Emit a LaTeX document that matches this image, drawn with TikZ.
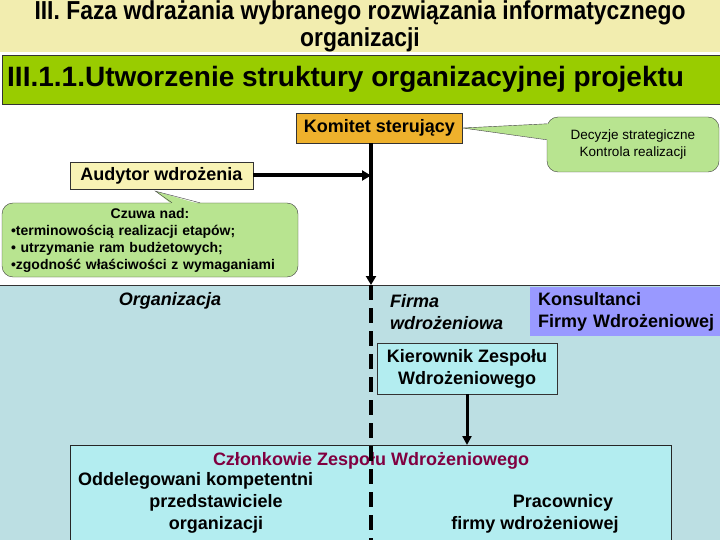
\documentclass[tikz,border=0pt]{standalone}
\usepackage{fontspec}
\setmainfont{Liberation Sans}
\newfontfamily\narrowfont[FakeStretch=0.88]{Liberation Sans}
\usetikzlibrary{arrows.meta,positioning,calc}
\definecolor{titlebg}{HTML}{F2EDAF}
\definecolor{bandgreen}{HTML}{99CC00}
\definecolor{komfill}{HTML}{EEB12C}
\definecolor{audfill}{HTML}{F8F3B5}
\definecolor{callfill}{HTML}{B8E490}
\definecolor{orgbg}{HTML}{BCDFE3}
\definecolor{konfill}{HTML}{9999FF}
\definecolor{teamfill}{HTML}{B3EDF0}
\definecolor{teamred}{HTML}{800040}

\begin{document}
\begin{tikzpicture}[x=1pt, y=-1pt,
  lbl/.style={inner sep=0pt, font=\bfseries\fontsize{18}{22}\selectfont},
  box/.style={lbl, draw=black!80, align=center},
  callout/.style={draw=black!75, fill=callfill, rounded corners=11pt, inner sep=0pt},
  vline/.style={line width=4pt, -{Triangle[length=9pt,width=10pt]}},
  dline/.style={line width=4pt, dash pattern=on 15pt off 8pt}
]
\useasboundingbox (0,0) rectangle (720,540);
\fill[white] (0,0) rectangle (720,540);
% headers
\fill[titlebg] (0,0) rectangle (720,52);
\node[inner sep=0pt, align=center, font=\narrowfont\bfseries\fontsize{26}{27}\selectfont]
  (title) at (360,26) {III. Faza wdrażania wybranego rozwiązania informatycznego\\organizacji};
\draw[draw=black!80, fill=bandgreen] (2,55) rectangle (722,104);
\node[inner sep=0pt, anchor=base west, font=\bfseries\fontsize{28}{30}\selectfont]
  (subtitle) at (7,87) {III.1.1.Utworzenie struktury organizacyjnej projektu};
% lower area
\draw[draw=black!80, fill=orgbg] (-1,285) rectangle (722,542);

\node[box, fill=komfill, minimum width=166pt, minimum height=30pt] (kom) at (379.5,128) {Komitet sterujący};
\node[callout, minimum width=172pt, minimum height=55pt, align=center,
  font=\fontsize{13.5}{17}\selectfont] (dec) at (633,144.5) {Decyzje strategiczne\\Kontrola realizacji};
\fill[callfill] ($(dec.north west)+(1.5,7)$) -- (kom.east) -- ($(dec.north west)+(1.5,23)$) -- cycle;
\draw[black!75] ($(dec.north west)+(0,7)$) -- (kom.east) -- ($(dec.north west)+(0,23)$);

\node[box, fill=audfill, minimum width=183pt, minimum height=27pt] (aud) at (161.5,175.5) {Audytor wdrożenia};
\node[callout, minimum height=74pt, text width=278pt, inner xsep=9pt, align=left,
  font=\bfseries\fontsize{14}{17}\selectfont] (czu) at (150,240)
  {\makebox[278pt]{Czuwa nad:}\\•terminowością realizacji etapów;\\• utrzymanie ram budżetowych;\\•zgodność właściwości z wymaganiami};
\fill[callfill] ($(czu.north)+(22,1.5)$) -- ($(aud.south)+(-6,2)$) -- ($(czu.north)+(50,1.5)$) -- cycle;
\draw[black!75] ($(czu.north)+(22,0)$) -- ($(aud.south)+(-6,2)$) -- ($(czu.north)+(50,0)$);

\node[lbl, font=\bfseries\itshape\fontsize{18}{22}\selectfont] (org) at (170,301) {Organizacja};
\node[lbl, font=\bfseries\itshape\fontsize{18}{22}\selectfont, align=left, anchor=west]
  (firma) at (390,312) {Firma\\wdrożeniowa};
\node[lbl, fill=konfill, anchor=north west, minimum height=49pt, text width=200pt,
  inner xsep=8pt, align=left] (kon) at (530,287) {Konsultanci\\Firmy Wdrożeniowej};
\node[box, fill=teamfill, minimum width=180pt, minimum height=51pt] (kier) at (467,368.5)
  {Kierownik Zespołu\\Wdrożeniowego};

\node[draw=black!85, fill=teamfill, anchor=north west, minimum width=601pt, minimum height=110pt,
  inner sep=0pt] (czl) at (70,445) {};
\node[lbl, text=teamred] (czlt) at (371,461) {Członkowie Zespołu Wdrożeniowego};
\node[lbl, anchor=west] (odd) at (78,481) {Oddelegowani kompetentni};
\node[lbl] (prz) at (216,503) {przedstawiciele};
\node[lbl] (orgz) at (216,525) {organizacji};
\node[lbl] (prac) at (563,503) {Pracownicy};
\node[lbl] (firmy) at (535,525) {firmy wdrożeniowej};

% connectors
\coordinate (orgtop) at (371,285);
\coordinate (orgbot) at (371,545);
\draw[vline] (kom.south -| orgtop) -- (orgtop);
\draw[vline] (aud.east) -- (aud.east -| orgtop);
\draw[line width=3pt, -{Triangle[length=9pt,width=9pt]}] (kier.south) -- (kier.south |- czl.north);
\draw[dline] (orgtop) -- (orgbot);
\end{tikzpicture}
\end{document}
